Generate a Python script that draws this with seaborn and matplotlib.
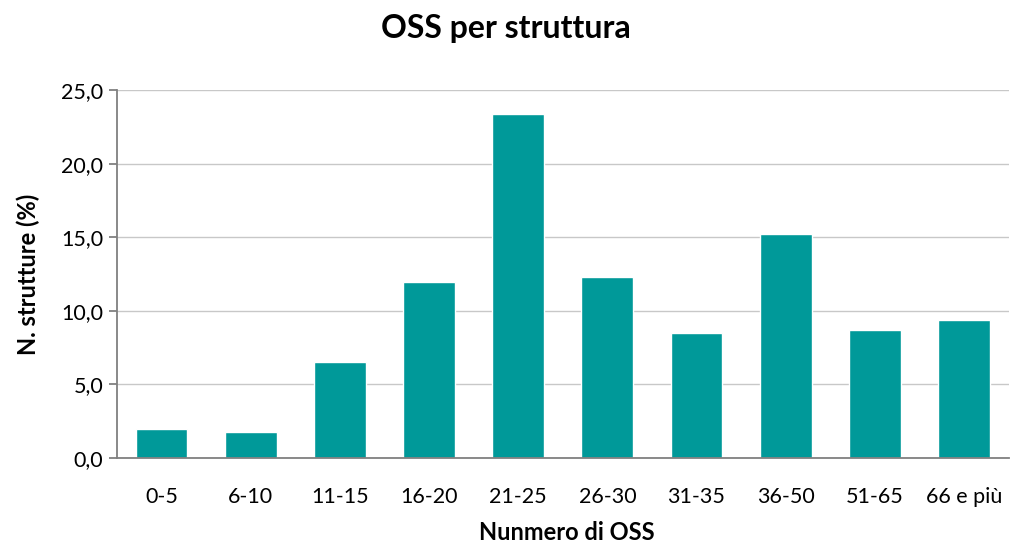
import numpy as np
import pandas as pd
import seaborn as sns
import matplotlib.pyplot as plt
from matplotlib.ticker import FuncFormatter, FixedLocator

categories = ["0-5", "6-10", "11-15", "16-20", "21-25", "26-30", "31-35", "36-50", "51-65", "66 e più"]
values = [1.95, 1.79, 6.50, 11.96, 23.39, 12.32, 8.51, 15.22, 8.68, 9.40]

df = pd.DataFrame({"classe": categories, "perc": values})

sns.set_style("white")
plt.rcParams["font.family"] = ["Lato", "DejaVu Sans"]
plt.rcParams["text.color"] = "black"
plt.rcParams["xtick.color"] = "black"
plt.rcParams["ytick.color"] = "black"
plt.rcParams["axes.labelcolor"] = "black"

fig = plt.figure(figsize=(10.12, 5.46), dpi=100)
ax = fig.add_axes([0.1156, 0.161, 0.881, 0.674])

sns.barplot(data=df, x="classe", y="perc", color="#009999", saturation=1,
            width=0.58, ax=ax)

ax.set_ylim(0, 25)
ax.set_xlim(-0.5, len(categories) - 0.5)
ax.set_yticks(np.arange(0, 25.1, 5))
ax.yaxis.set_major_formatter(FuncFormatter(lambda v, p: f"{v:.1f}".replace(".", ",")))
ax.grid(axis="y", color="#c8c8c8", linewidth=1)
ax.set_axisbelow(True)

for s in ["top", "right"]:
    ax.spines[s].set_visible(False)
for s in ["left", "bottom"]:
    ax.spines[s].set_color("#808080")
    ax.spines[s].set_linewidth(1.3)

ax.xaxis.set_minor_locator(FixedLocator(np.arange(-0.5, len(categories), 1)))
ax.tick_params(axis="x", which="major", length=0, pad=21, labelsize=15.5)
ax.tick_params(axis="x", which="minor", length=6, color="#808080", width=1.3)
ax.tick_params(axis="y", length=6, color="#808080", labelcolor="black", width=1.3, labelsize=15.5, pad=4, left=True)

ax.set_xlabel("")
ax.set_ylabel("N. strutture (%)", fontsize=17, fontweight="bold", labelpad=15)
# x label placed in figure coords so it stays inside the canvas
fig.text(0.5597, 1 - 533 / 546, "Nunmero di OSS", fontsize=17, fontweight="bold",
         ha="center", va="center")
fig.suptitle("OSS per struttura", fontsize=23, fontweight="bold", y=0.975)

fig.savefig("out.png", dpi=100)
